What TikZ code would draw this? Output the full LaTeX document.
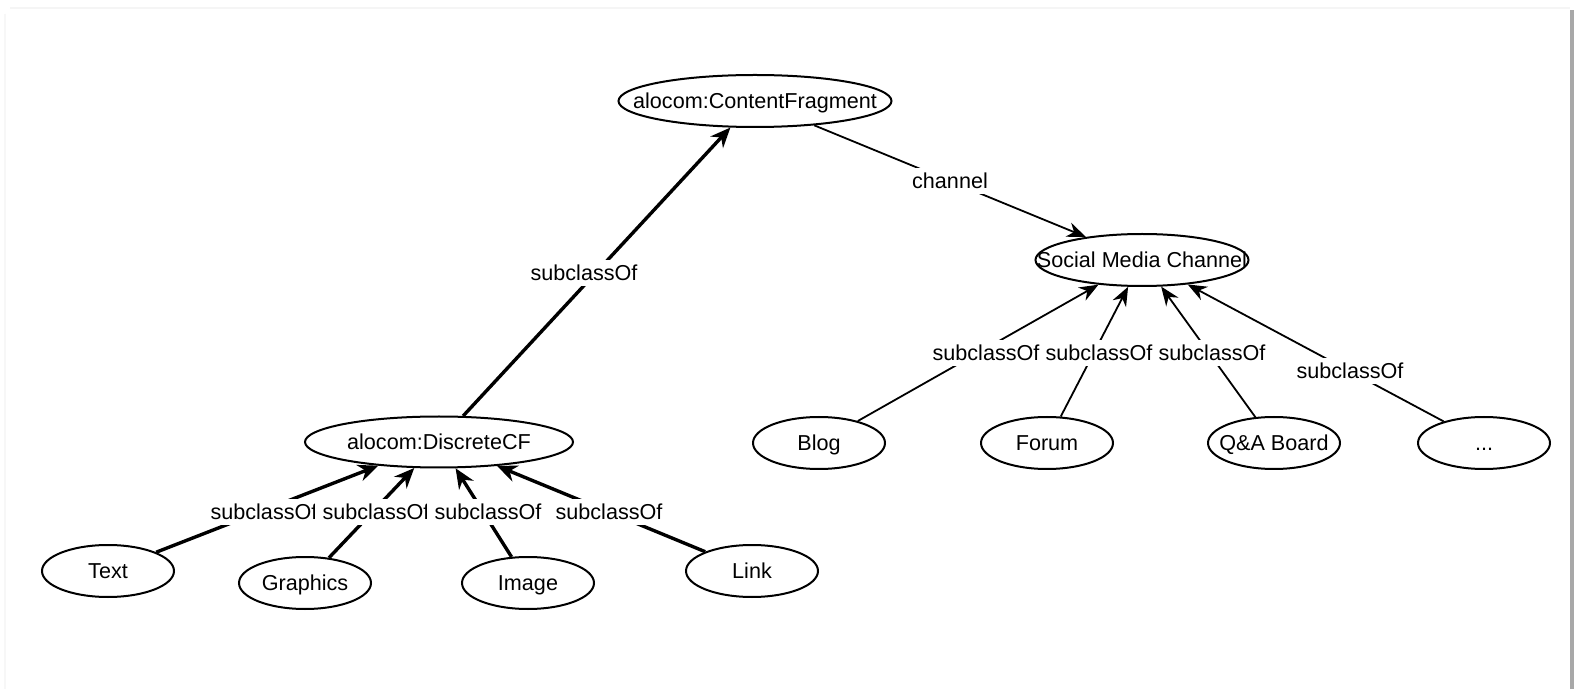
\documentclass[tikz,border=0pt]{standalone}
\usepackage{fontspec}
\setmainfont{Liberation Sans}
\usetikzlibrary{shapes.geometric, arrows.meta}
% label text that does not widen its ellipse
\newcommand{\nm}[1]{\makebox[0pt]{#1}}
\begin{document}
\begin{tikzpicture}[x=0.5pt, y=-0.5pt,
  every node/.style={font=\fontsize{10.8pt}{13pt}\selectfont},
  cls/.style={draw, ellipse, line width=1pt, inner sep=0pt, minimum height=26pt,
    text height=7.7pt, text depth=0pt},
  smallcls/.style={cls, minimum width=66pt},
  rel/.style={fill=white, inner sep=2.4pt},
  relwide/.style={rel, inner xsep=3.6pt},
  strong/.style={line width=1.7pt, -{Stealth[length=10pt, width=8.5pt]}},
  weak/.style={line width=0.9pt, -{Stealth[length=9.5pt, width=7.5pt]}},
]
\useasboundingbox (0,0) rectangle (1574,689);
\fill[white] (0,0) rectangle (1574,689);

% page frame
\draw[black!4, line width=1pt] (10,8) -- (1570,8);
\draw[black!3, line width=0.8pt] (5,14) -- (5,689);
\fill[black!34] (1570,10) rectangle (1574,689);

% classes
\node[cls, minimum width=136.5pt] (cf)  at (755,101) {\nm{alocom:ContentFragment}};
\node[cls, minimum width=106.5pt] (smc) at (1142,260) {\nm{Social Media Channel}};
\node[cls, minimum width=134pt, minimum height=25.5pt] (dcf) at (439,442) {\nm{alocom:DiscreteCF}};

\node[smallcls] (text)     at (108,571)  {\nm{Text}};
\node[smallcls] (graphics) at (305,583)  {\nm{Graphics}};
\node[smallcls] (image)    at (528,583)  {\nm{Image}};
\node[smallcls] (link)     at (752,571)  {\nm{Link}};

\node[smallcls] (blog)  at (819,443)  {\nm{Blog}};
\node[smallcls] (forum) at (1047,443) {\nm{Forum}};
\node[smallcls] (qa)    at (1274,443) {\nm{Q\&A Board}};
\node[smallcls] (more)  at (1484,443) {\nm{...}};

% relations
\draw[strong] (dcf) -- (cf);
\draw[weak] (cf) -- (smc);

\draw[strong] (text) -- (dcf);
\draw[strong] (graphics) -- (dcf);
\draw[strong] (image) -- (dcf);
\draw[strong] (link) -- (dcf);

\draw[weak] (blog) -- (smc);
\draw[weak] (forum) -- (smc);
\draw[weak] (qa) -- (smc);
\draw[weak] (more) -- (smc);

% relation names
\node[rel] (l-dcf) at (584,273) {subclassOf};
\node[rel] (l-ch)  at (950,181) {channel};

\node[rel] (l-blog)  at (986,353)  {subclassOf};
\node[rel] (l-forum) at (1099,353) {subclassOf};
\node[rel] (l-qa)    at (1212,353) {subclassOf};
\node[rel] (l-more)  at (1350,371) {subclassOf};

\node[relwide] (l-text)     at (264,512) {subclassOf};
\node[relwide] (l-graphics) at (376,512) {subclassOf};
\node[relwide] (l-image)    at (488,512) {subclassOf};
\node[relwide] (l-link)     at (609,512) {subclassOf};
\end{tikzpicture}
\end{document}
